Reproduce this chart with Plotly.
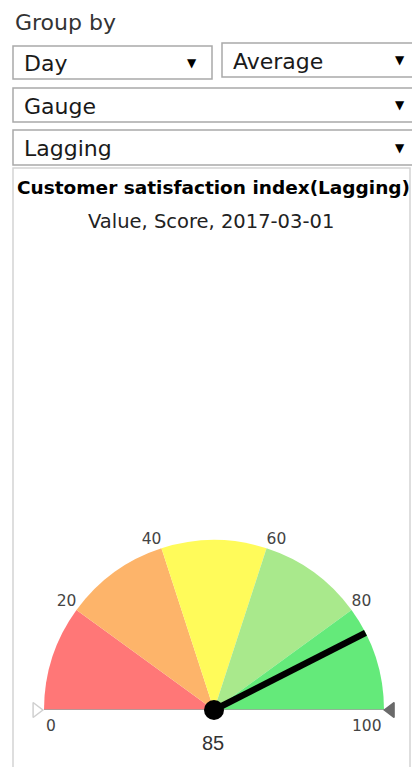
import plotly.graph_objects as go

W, H = 412, 767

# ---- data ----
band_edges = [0, 20, 40, 60, 80, 100]
band_colors = ["#ff7777", "#fdb46a", "#fffb5a", "#a9e98c", "#64ea7a"]
tick_values = [0, 20, 40, 60, 80, 100]
inner_tick_positions = ["top left", "top left", "top right", "top right"]
gauge_min, gauge_max = 0, 100
gauge_value = 85

group_label = "Group by"
dropdown_labels = ["Day", "Average", "Gauge", "Lagging"]
chart_title = "Customer satisfaction index(Lagging)"
chart_subtitle = "Value, Score, 2017-03-01"

# gauge geometry (pixels)
CX, CY, RADIUS = 214, 710, 170
R_MAX = 1.06  # radial range, leaves room for the end markers


def to_deg(v):
    return (v - gauge_min) / (gauge_max - gauge_min) * 180.0


def px(x):
    return x / W


def py(y):
    return 1 - y / H


fig = go.Figure()

# coloured bands
fig.add_trace(go.Barpolar(
    r=[1] * (len(band_edges) - 1),
    theta=[to_deg((a + b) / 2) for a, b in zip(band_edges[:-1], band_edges[1:])],
    width=[to_deg(b) - to_deg(a) for a, b in zip(band_edges[:-1], band_edges[1:])],
    marker=dict(color=band_colors, line=dict(width=0)),
    hoverinfo="skip", showlegend=False,
))

# base line across the gauge
fig.add_trace(go.Scatterpolar(
    r=[1, 0, 1], theta=[to_deg(gauge_min), 0, to_deg(gauge_max)],
    mode="lines", line=dict(color="#a0a0a0", width=1.5),
    hoverinfo="skip", showlegend=False, cliponaxis=False,
))

# inner tick labels (20 .. 80)
inner_ticks = tick_values[1:-1]
fig.add_trace(go.Scatterpolar(
    r=[1] * len(inner_ticks), theta=[to_deg(v) for v in inner_ticks],
    mode="text", text=[str(v) for v in inner_ticks],
    textposition=inner_tick_positions,
    textfont=dict(family="DejaVu Sans", size=15.5, color="#444444"),
    hoverinfo="skip", showlegend=False, cliponaxis=False,
))

# min / max markers
fig.add_trace(go.Scatterpolar(
    r=[1.045, 1.04], theta=[to_deg(gauge_min), to_deg(gauge_max)],
    mode="markers",
    marker=dict(symbol=["triangle-right-open", "triangle-left"], size=13,
                color=["#d0d0d0", "#6a6a6a"],
                line=dict(width=1.5, color=["#d0d0d0", "#6a6a6a"])),
    hoverinfo="skip", showlegend=False, cliponaxis=False,
))

# needle
fig.add_trace(go.Scatterpolar(
    r=[0, 1.0], theta=[to_deg(gauge_value), to_deg(gauge_value)],
    mode="lines", line=dict(color="#000000", width=6.5),
    hoverinfo="skip", showlegend=False, cliponaxis=False,
))
fig.add_trace(go.Scatterpolar(
    r=[0], theta=[to_deg(gauge_value)], mode="markers",
    marker=dict(size=20, color="#000000"),
    hoverinfo="skip", showlegend=False, cliponaxis=False,
))

R_PX = RADIUS * R_MAX
fig.update_layout(
    width=W, height=H,
    margin=dict(l=0, r=0, t=0, b=0),
    paper_bgcolor="white",
    showlegend=False,
    polar=dict(
        domain=dict(x=[px(CX - R_PX), px(CX + R_PX)], y=[py(CY), py(CY - R_PX)]),
        sector=[0, 180],
        hole=0,
        bgcolor="rgba(0,0,0,0)",
        radialaxis=dict(visible=False, range=[0, R_MAX]),
        angularaxis=dict(visible=False, rotation=180, direction="clockwise",
                         showgrid=False, showline=False),
    ),
)

shapes = []
annotations = []

annotations.append(dict(
    x=px(13), y=py(23), xref="paper", yref="paper", xanchor="left", yanchor="middle",
    text=group_label, showarrow=False,
    font=dict(family="DejaVu Sans", size=22, color="#333333"),
))

# dropdown boxes: (x0, y0, x1, y1, text x, arrow x)
boxes = [
    (13, 46, 212, 79, 22, 192),
    (222, 43, 416, 77, 231, 400),
    (13, 88, 416, 122, 22, 400),
    (13, 130, 416, 165, 22, 400),
]
for label, (x0, y0, x1, y1, tx, ax) in zip(dropdown_labels, boxes):
    shapes.append(dict(type="rect", xref="paper", yref="paper",
                       x0=px(x0), x1=px(x1), y0=py(y0), y1=py(y1),
                       line=dict(color="#a9a9a9", width=1.5), fillcolor="white", layer="below"))
    annotations.append(dict(
        x=px(tx), y=py((y0 + y1) / 2 + 1), xref="paper", yref="paper",
        xanchor="left", yanchor="middle", text=label, showarrow=False,
        font=dict(family="DejaVu Sans", size=22, color="#1a1a1a"),
    ))
    annotations.append(dict(
        x=px(ax), y=py((y0 + y1) / 2), xref="paper", yref="paper",
        xanchor="center", yanchor="middle", text="▼", showarrow=False,
        font=dict(family="DejaVu Sans", size=12, color="#000000"),
    ))

# chart panel
shapes.append(dict(type="rect", xref="paper", yref="paper",
                   x0=px(13), x1=px(410), y0=py(168), y1=py(H + 10),
                   line=dict(color="#d4d4d4", width=1.5), fillcolor="rgba(0,0,0,0)", layer="below"))

annotations.append(dict(
    x=px(213.5), y=py(187), xref="paper", yref="paper", xanchor="center", yanchor="middle",
    text="<b>" + chart_title + "</b>", showarrow=False,
    font=dict(family="DejaVu Sans", size=18.5, color="#000000"),
))
annotations.append(dict(
    x=px(211), y=py(221), xref="paper", yref="paper", xanchor="center", yanchor="middle",
    text=chart_subtitle, showarrow=False,
    font=dict(family="DejaVu Sans", size=19.5, color="#222222"),
))
annotations.append(dict(
    x=px(213), y=py(743), xref="paper", yref="paper", xanchor="center", yanchor="middle",
    text=str(gauge_value), showarrow=False,
    font=dict(family="Liberation Sans", size=20, color="#333333"),
))

# end-of-scale labels sit just below the ends of the arc
annotations.append(dict(
    x=px(CX - RADIUS), y=py(CY + 5), xref="paper", yref="paper", xanchor="left", yanchor="top",
    text=str(tick_values[0]), showarrow=False,
    font=dict(family="DejaVu Sans", size=15.5, color="#444444"),
))
annotations.append(dict(
    x=px(CX + RADIUS), y=py(CY + 5), xref="paper", yref="paper", xanchor="right", yanchor="top",
    text=str(tick_values[-1]), showarrow=False,
    font=dict(family="DejaVu Sans", size=15.5, color="#444444"),
))

fig.update_layout(shapes=shapes, annotations=annotations)

fig.write_html("out.html")
